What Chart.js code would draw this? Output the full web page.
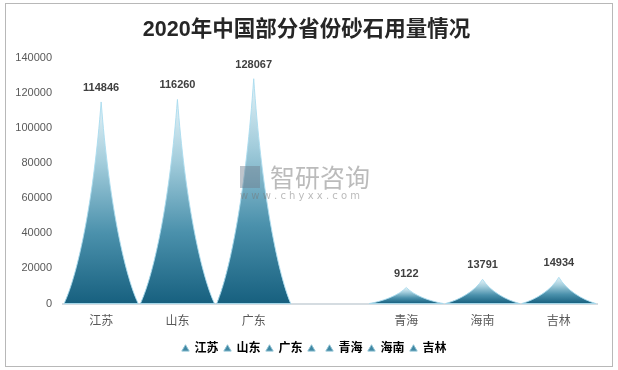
<!DOCTYPE html>
<html>
<head>
<meta charset="utf-8">
<script src="https://cdn.jsdelivr.net/npm/chart.js@4.4.0/dist/chart.umd.min.js"></script>
<style>
  html, body { margin: 0; padding: 0; background: #fff; }
  #wrap { position: relative; width: 618px; height: 370px; }
  #frame { position: absolute; left: 5px; top: 3px; width: 606px; height: 362px; border: 1px solid #b8b8b8; pointer-events: none; }
</style>
</head>
<body>
<div id="wrap">
  <canvas id="barChart" width="618" height="370"></canvas>
  <div id="frame"></div>
</div>
<script>
'use strict'

// Chart data
var provinces = ['江苏', '山东', '广东', '', '青海', '海南', '吉林'];
var usage = [114846, 116260, 128067, null, 9122, 13791, 14934];
var yTicks = [0, 20000, 40000, 60000, 80000, 100000, 120000, 140000];

var cjk = '"Liberation Sans", "Noto Sans CJK SC", sans-serif';

// Nudge title and legend so they sit where the original had them
var shiftPlugin = {
  id: 'shift',
  afterLayout: function(chart) {
    chart.legend.left += 11;
    chart.legend.right += 11;
    chart.titleBlock.left += 3;
    chart.titleBlock.right += 3;
  }
};

// Draw each bar as a curved peak, using the bar element's position
var peakPlugin = {
  id: 'peaks',
  afterDatasetsDraw: function(chart) {
    var ctx = chart.ctx;
    var meta = chart.getDatasetMeta(0);
    meta.data.forEach(function(bar, i) {
      if (usage[i] === null) return;
      var x = bar.x, top = bar.y, base = bar.base, hw = bar.width / 2;
      var h = base - top;

      var grad = ctx.createLinearGradient(0, top, 0, base);
      grad.addColorStop(0, '#e6f3f8');
      grad.addColorStop(0.3, '#a3cddc');
      grad.addColorStop(0.65, '#4b91ac');
      grad.addColorStop(1, '#17607f');

      ctx.save();
      ctx.beginPath();
      ctx.moveTo(x - hw, base);
      ctx.bezierCurveTo(x - hw * 0.62, base - h * 0.15, x - hw * 0.2, base - h * 0.52, x, top);
      ctx.bezierCurveTo(x + hw * 0.2, base - h * 0.52, x + hw * 0.62, base - h * 0.15, x + hw, base);
      ctx.closePath();
      ctx.fillStyle = grad;
      ctx.fill();
      ctx.strokeStyle = 'rgba(170, 220, 238, 0.9)';
      ctx.lineWidth = 1;
      ctx.stroke();

      // value label
      ctx.fillStyle = '#404040';
      ctx.font = 'bold 11px ' + cjk;
      ctx.textAlign = 'center';
      ctx.textBaseline = 'middle';
      ctx.fillText(String(usage[i]), x, top - 14);
      ctx.restore();
    });

    // watermark
    ctx.save();
    ctx.fillStyle = 'rgba(110, 125, 140, 0.45)';
    ctx.fillRect(240, 166, 20, 22);
    ctx.fillStyle = 'rgba(120, 120, 120, 0.5)';
    ctx.font = '25px "Noto Sans CJK SC", sans-serif';
    ctx.textAlign = 'left';
    ctx.textBaseline = 'middle';
    ctx.fillText('智研咨询', 270, 177);
    ctx.font = '10px "DejaVu Sans", sans-serif';
    ctx.fillText('w w w . c h y x x . c o m', 240, 196);
    ctx.restore();
  }
};

var chart = new Chart(document.getElementById('barChart'), {
  type: 'bar',
  data: {
    labels: provinces,
    datasets: [{
      label: '砂石用量',
      data: usage,
      backgroundColor: 'rgba(0,0,0,0)',
      borderWidth: 0,
      categoryPercentage: 1,
      barPercentage: 0.97
    }]
  },
  options: {
    responsive: false,
    animation: false,
    layout: { padding: { left: 10, right: 21, bottom: 5, top: 0 } },
    plugins: {
      title: {
        display: true,
        text: '2020年中国部分省份砂石用量情况',
        color: '#262626',
        font: { size: 21.5, weight: 'bold', family: cjk },
        padding: { top: 17, bottom: 15 }
      },
      legend: {
        position: 'bottom',
        labels: {
          usePointStyle: true,
          boxWidth: 6,
          boxHeight: 6,
          padding: 6,
          color: '#404040',
          font: { size: 12, weight: 'bold', family: cjk },
          generateLabels: function() {
            return provinces.map(function(p) {
              return {
                text: p,
                fillStyle: '#3f87a3',
                strokeStyle: '#8cbfd1',
                lineWidth: 1,
                pointStyle: 'triangle',
                hidden: false
              };
            });
          }
        },
        onClick: function() {}
      },
      tooltip: { enabled: false }
    },
    scales: {
      x: {
        grid: { display: false, drawTicks: false },
        border: { color: '#d5dce1', width: 2 },
        ticks: { color: '#595959', padding: 11, font: { size: 12, family: cjk } },
        afterFit: function(s) { s.height = 33.5; }
      },
      y: {
        min: 0,
        max: 140000,
        afterBuildTicks: function(s) {
          s.ticks = yTicks.map(function(v) { return { value: v }; });
        },
        grid: { display: false, drawTicks: false },
        border: { display: false },
        ticks: {
          color: '#595959',
          padding: 11,
          font: { size: 11, family: cjk },
          callback: function(v) { return String(v); }
        },
        afterFit: function(s) { s.width = 53; }
      }
    }
  },
  plugins: [shiftPlugin, peakPlugin]
});
</script>
</body>
</html>
